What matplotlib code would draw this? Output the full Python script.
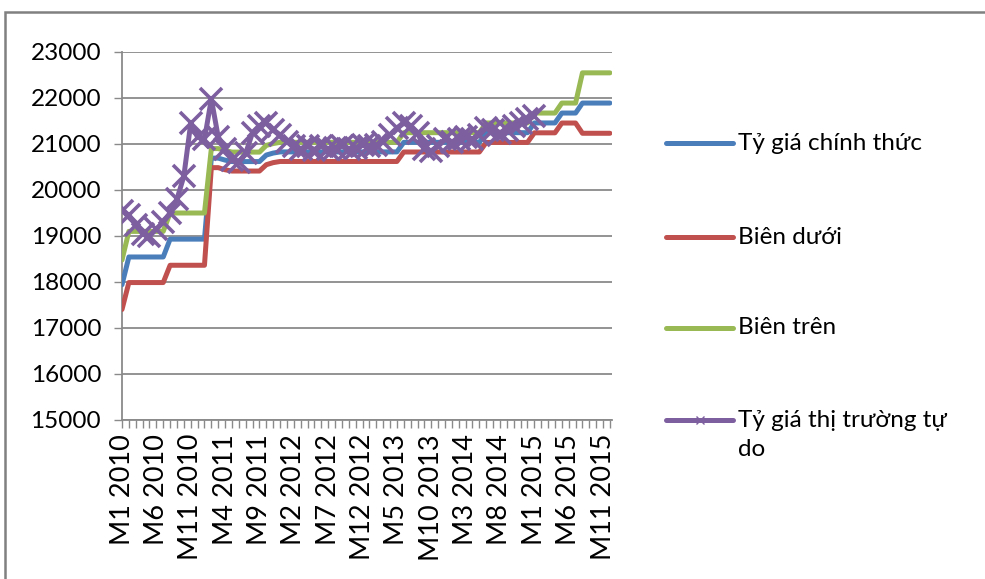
import numpy as np
import matplotlib.pyplot as plt
from matplotlib.lines import Line2D
from matplotlib.patches import Rectangle

plt.rcParams['font.family'] = ['Lato', 'DejaVu Sans']

# monthly categories Jan 2010 .. Dec 2015
months = [f"M{m} {y}" for y in range(2010, 2016) for m in range(1, 13)]
label_every = 5

# official interbank rate (VND/USD)
official = [17941, 18544, 18544, 18544, 18544, 18544, 18544, 18932, 18932, 18932, 18932, 18932,
            18932, 20693, 20693, 20650, 20618, 20618, 20618, 20618, 20618, 20760, 20803, 20828,
            20828, 20828, 20828, 20828, 20828, 20828, 20828, 20828, 20828, 20828, 20828, 20828,
            20828, 20828, 20828, 20828, 20828, 21036, 21036, 21036, 21036, 21036, 21036, 21036,
            21036, 21036, 21036, 21036, 21036, 21246, 21246, 21246, 21246, 21246, 21246, 21246,
            21458, 21458, 21458, 21458, 21673, 21673, 21673, 21890, 21890, 21890, 21890, 21890]

# lower band
lower = [17403, 17988, 17988, 17988, 17988, 17988, 17988, 18364, 18364, 18364, 18364, 18364,
         18364, 20486, 20486, 20440, 20412, 20412, 20412, 20412, 20412, 20550, 20595, 20620,
         20620, 20620, 20620, 20620, 20620, 20620, 20620, 20620, 20620, 20620, 20620, 20620,
         20620, 20620, 20620, 20620, 20620, 20826, 20826, 20826, 20826, 20826, 20826, 20826,
         20826, 20826, 20826, 20826, 20826, 21034, 21034, 21034, 21034, 21034, 21034, 21034,
         21243, 21243, 21243, 21243, 21456, 21456, 21456, 21233, 21233, 21233, 21233, 21233]

# upper band
upper = [18479, 19100, 19100, 19100, 19100, 19100, 19100, 19500, 19500, 19500, 19500, 19500,
         19500, 20900, 20900, 20860, 20824, 20824, 20824, 20824, 20824, 20970, 21010, 21036,
         21036, 21036, 21036, 21036, 21036, 21036, 21036, 21036, 21036, 21036, 21036, 21036,
         21036, 21036, 21036, 21036, 21036, 21246, 21246, 21246, 21246, 21246, 21246, 21246,
         21246, 21246, 21246, 21246, 21246, 21458, 21458, 21458, 21458, 21458, 21458, 21458,
         21673, 21673, 21673, 21673, 21890, 21890, 21890, 22547, 22547, 22547, 22547, 22547]

# free market rate (no data after M1 2015)
free_market = [19550, 19450, 19250, 19050, 19000, 19150, 19300, 19500, 19800, 20300, 21450, 21150,
               21100, 21980, 21150, 20900, 20650, 20600, 20800, 21250, 21400, 21450, 21300, 21200,
               21050, 20950, 20900, 20950, 20880, 20950, 20900, 20920, 20950, 20900, 20920, 20980,
               20950, 20980, 21050, 21200, 21350, 21450, 21400, 21250, 20900, 20850, 20950, 21100,
               21050, 21100, 21150, 21100, 21200, 21350, 21300, 21250, 21300, 21400, 21450, 21550,
               21600, None, None, None, None, None, None, None, None, None, None, None]

series_names = ['Tỷ giá chính thức', 'Biên dưới', 'Biên trên', 'Tỷ giá thị trường tự\ndo']
colors = ['#4A7EBB', '#C0504D', '#98B954', '#7D5FA0']

x = np.arange(len(months))
fm = np.array([np.nan if v is None else v for v in free_market], dtype=float)

fig = plt.figure(figsize=(9.85, 5.79), dpi=100)
ax = fig.add_axes([122 / 985, 1 - 420 / 579, (612 - 122) / 985, (420 - 52) / 579])

lw = 3.6
ax.plot(x, official, color=colors[0], lw=lw, solid_capstyle='round', zorder=3)
ax.plot(x, lower, color=colors[1], lw=lw, solid_capstyle='round', zorder=3)
ax.plot(x, upper, color=colors[2], lw=lw, solid_capstyle='round', zorder=3)
ax.plot(x, fm, color=colors[3], lw=lw, marker='x', ms=16, mew=2.6, zorder=4)

ax.set_xlim(0, len(months) - 0.7)
ax.set_ylim(15000, 23000)
ax.set_yticks(np.arange(15000, 23001, 1000))
ax.grid(axis='y', color='#8a8a8a', lw=1.3)
ax.set_axisbelow(True)

ax.set_xticks(x)
ax.set_xticklabels([m if i % label_every == 0 else '' for i, m in enumerate(months)],
                   rotation=90, fontsize=19.5)
ax.tick_params(axis='x', length=6, width=1, color='#8a8a8a', pad=4)
ax.tick_params(axis='y', length=6, width=1, color='#8a8a8a', labelsize=17.5, pad=9)

for side in ['top', 'right']:
    ax.spines[side].set_visible(False)
for side in ['left', 'bottom']:
    ax.spines[side].set_color('#8a8a8a')
    ax.spines[side].set_linewidth(1.3)

# legend on the right, one entry per row
legend_rows = [143, 237, 328, 420]
for name, c, row in zip(series_names, colors, legend_rows):
    yf = 1 - row / 579
    fig.add_artist(Line2D([666 / 985, 733 / 985], [yf, yf], color=c, lw=lw,
                          solid_capstyle='round', transform=fig.transFigure))
    if '\n' in name:
        fig.text(738 / 985, yf + 10 / 579, name, fontsize=17.5, va='top', ha='left',
                 linespacing=1.5)
    else:
        fig.text(738 / 985, yf, name, fontsize=17.5, va='center', ha='left')
fig.add_artist(Line2D([700 / 985], [1 - 420 / 579], color=colors[3], marker='x', ms=6, mew=1,
                      transform=fig.transFigure))

# chart frame
fig.add_artist(Rectangle((5 / 985, -0.1), 1.2, (579 - 12) / 579 + 0.1, fill=False,
                         ec='#808080', lw=1.8, transform=fig.transFigure))

fig.savefig('out.png', dpi=100, facecolor='white')
